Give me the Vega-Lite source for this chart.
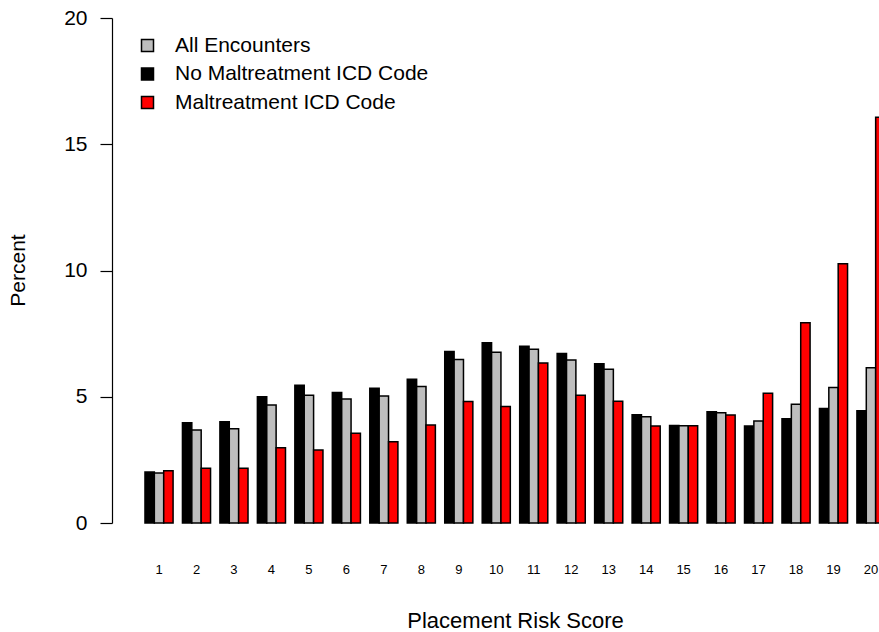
{
  "$schema": "https://vega.github.io/schema/vega-lite/v6.json",
  "autosize": "none",
  "width": 767,
  "height": 505,
  "padding": {"left": 112, "top": 18, "right": 0, "bottom": 109},
  "background": "white",
  "config": {
    "view": {"stroke": null},
    "font": "Liberation Sans",
    "axis": {"grid": false, "labelColor": "black", "titleColor": "black", "domainColor": "black", "tickColor": "black", "titleFontWeight": "normal"}
  },
  "data": {"values": [
    {"score": 1, "group": "No Maltreatment ICD Code", "pct": 2.02},
    {"score": 1, "group": "All Encounters", "pct": 1.98},
    {"score": 1, "group": "Maltreatment ICD Code", "pct": 2.07},
    {"score": 2, "group": "No Maltreatment ICD Code", "pct": 3.97},
    {"score": 2, "group": "All Encounters", "pct": 3.68},
    {"score": 2, "group": "Maltreatment ICD Code", "pct": 2.17},
    {"score": 3, "group": "No Maltreatment ICD Code", "pct": 4.01},
    {"score": 3, "group": "All Encounters", "pct": 3.73},
    {"score": 3, "group": "Maltreatment ICD Code", "pct": 2.17},
    {"score": 4, "group": "No Maltreatment ICD Code", "pct": 5.0},
    {"score": 4, "group": "All Encounters", "pct": 4.67},
    {"score": 4, "group": "Maltreatment ICD Code", "pct": 2.98},
    {"score": 5, "group": "No Maltreatment ICD Code", "pct": 5.46},
    {"score": 5, "group": "All Encounters", "pct": 5.06},
    {"score": 5, "group": "Maltreatment ICD Code", "pct": 2.89},
    {"score": 6, "group": "No Maltreatment ICD Code", "pct": 5.17},
    {"score": 6, "group": "All Encounters", "pct": 4.91},
    {"score": 6, "group": "Maltreatment ICD Code", "pct": 3.55},
    {"score": 7, "group": "No Maltreatment ICD Code", "pct": 5.34},
    {"score": 7, "group": "All Encounters", "pct": 5.03},
    {"score": 7, "group": "Maltreatment ICD Code", "pct": 3.22},
    {"score": 8, "group": "No Maltreatment ICD Code", "pct": 5.69},
    {"score": 8, "group": "All Encounters", "pct": 5.41},
    {"score": 8, "group": "Maltreatment ICD Code", "pct": 3.88},
    {"score": 9, "group": "No Maltreatment ICD Code", "pct": 6.79},
    {"score": 9, "group": "All Encounters", "pct": 6.48},
    {"score": 9, "group": "Maltreatment ICD Code", "pct": 4.81},
    {"score": 10, "group": "No Maltreatment ICD Code", "pct": 7.14},
    {"score": 10, "group": "All Encounters", "pct": 6.76},
    {"score": 10, "group": "Maltreatment ICD Code", "pct": 4.61},
    {"score": 11, "group": "No Maltreatment ICD Code", "pct": 7.0},
    {"score": 11, "group": "All Encounters", "pct": 6.88},
    {"score": 11, "group": "Maltreatment ICD Code", "pct": 6.34},
    {"score": 12, "group": "No Maltreatment ICD Code", "pct": 6.71},
    {"score": 12, "group": "All Encounters", "pct": 6.46},
    {"score": 12, "group": "Maltreatment ICD Code", "pct": 5.06},
    {"score": 13, "group": "No Maltreatment ICD Code", "pct": 6.31},
    {"score": 13, "group": "All Encounters", "pct": 6.09},
    {"score": 13, "group": "Maltreatment ICD Code", "pct": 4.82},
    {"score": 14, "group": "No Maltreatment ICD Code", "pct": 4.29},
    {"score": 14, "group": "All Encounters", "pct": 4.21},
    {"score": 14, "group": "Maltreatment ICD Code", "pct": 3.84},
    {"score": 15, "group": "No Maltreatment ICD Code", "pct": 3.86},
    {"score": 15, "group": "All Encounters", "pct": 3.85},
    {"score": 15, "group": "Maltreatment ICD Code", "pct": 3.85},
    {"score": 16, "group": "No Maltreatment ICD Code", "pct": 4.41},
    {"score": 16, "group": "All Encounters", "pct": 4.37},
    {"score": 16, "group": "Maltreatment ICD Code", "pct": 4.28},
    {"score": 17, "group": "No Maltreatment ICD Code", "pct": 3.84},
    {"score": 17, "group": "All Encounters", "pct": 4.04},
    {"score": 17, "group": "Maltreatment ICD Code", "pct": 5.14},
    {"score": 18, "group": "No Maltreatment ICD Code", "pct": 4.13},
    {"score": 18, "group": "All Encounters", "pct": 4.7},
    {"score": 18, "group": "Maltreatment ICD Code", "pct": 7.93},
    {"score": 19, "group": "No Maltreatment ICD Code", "pct": 4.53},
    {"score": 19, "group": "All Encounters", "pct": 5.37},
    {"score": 19, "group": "Maltreatment ICD Code", "pct": 10.27},
    {"score": 20, "group": "No Maltreatment ICD Code", "pct": 4.45},
    {"score": 20, "group": "All Encounters", "pct": 6.15},
    {"score": 20, "group": "Maltreatment ICD Code", "pct": 16.07}
  ]},
  "mark": {"type": "bar", "stroke": "black", "strokeWidth": 1.5},
  "encoding": {
    "x": {
      "field": "score", "type": "ordinal",
      "scale": {"range": [0, 806], "paddingInner": 0.25, "paddingOuter": 0.88},
      "axis": {
        "title": "Placement Risk Score", "titleFontSize": 22, "titleY": 97, "titleBaseline": "middle",
        "labelAngle": 0, "labelFontSize": 13, "labelPadding": 40, "ticks": false, "domain": false, "labelBaseline": "top"
      }
    },
    "xOffset": {"field": "group", "type": "nominal", "sort": ["No Maltreatment ICD Code", "All Encounters", "Maltreatment ICD Code"]},
    "y": {
      "field": "pct", "type": "quantitative",
      "scale": {"domain": [0, 20], "nice": false},
      "axis": {
        "title": "Percent", "values": [0, 5, 10, 15, 20], "titleFontSize": 21, "titleX": -94, "titleY": 252, "titleAngle": -90, "titleBaseline": "middle",
        "labelFontSize": 21, "tickSize": 12, "labelPadding": 13, "domainWidth": 1.2, "tickWidth": 1.2
      }
    },
    "color": {
      "field": "group", "type": "nominal",
      "scale": {"domain": ["All Encounters", "No Maltreatment ICD Code", "Maltreatment ICD Code"], "range": ["#BEBEBE", "#000000", "#FF0000"]},
      "legend": {
        "title": null, "orient": "none", "legendX": 25, "legendY": 17,
        "symbolType": "square", "symbolSize": 144, "symbolStrokeColor": "black", "symbolStrokeWidth": 1.5,
        "labelFontSize": 21, "labelOffset": 17, "rowPadding": 6.5, "labelColor": "black", "labelLimit": 0
      }
    }
  }
}
